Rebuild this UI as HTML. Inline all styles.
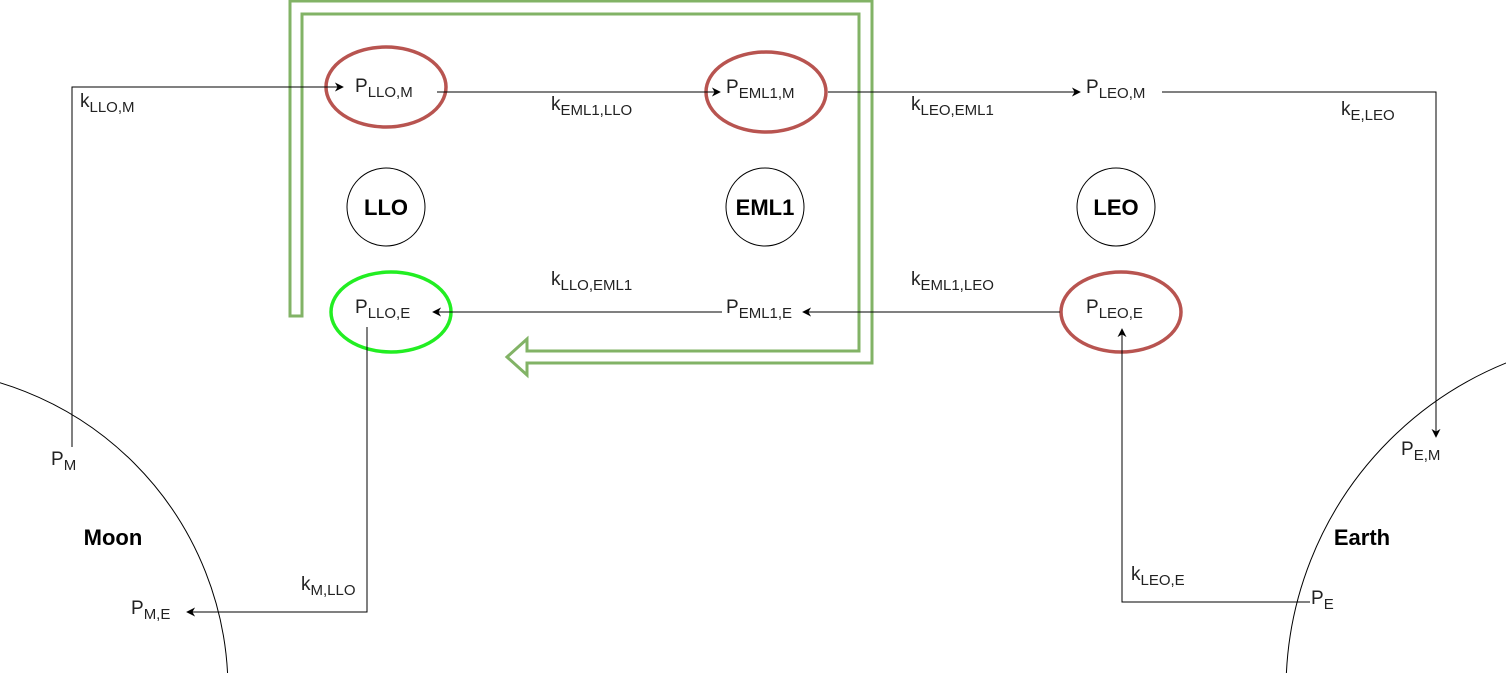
<!DOCTYPE html>
<html><head><meta charset="utf-8"><style>
html,body{margin:0;padding:0;background:#fff;width:1506px;height:673px;overflow:hidden}
svg{display:block;position:absolute;left:0;top:0}
text{font-family:"Liberation Sans",sans-serif;fill:#222}
.l{font-size:19px}
.s{font-size:15px}
.b{font-size:22px;font-weight:bold;fill:#000}
</style></head><body>
<svg width="1506" height="673" viewBox="0 0 1506 673" xmlns="http://www.w3.org/2000/svg">
<defs>
<marker id="a" viewBox="0 0 10 10" refX="9" refY="5" markerWidth="9" markerHeight="9" markerUnits="userSpaceOnUse" orient="auto">
<path d="M0,0 L10,5 L0,10 L3,5 z" fill="#000"/></marker>
</defs>
<circle cx="-93" cy="690" r="321" fill="none" stroke="#000" stroke-width="1"/>
<circle cx="1639" cy="690" r="353" fill="none" stroke="#000" stroke-width="1"/>
<polygon points="290,316 290,1 872,1 872,363 527,363 527,375 507,357 527,339 527,351 859,351 859,14 302,14 302,316" fill="none" stroke="#82b366" stroke-width="3"/>
<ellipse cx="386" cy="87" rx="60" ry="40" fill="none" stroke="#b85450" stroke-width="3.5"/>
<ellipse cx="766" cy="92" rx="60" ry="40" fill="none" stroke="#b85450" stroke-width="3.5"/>
<ellipse cx="391" cy="312" rx="60" ry="40" fill="none" stroke="#22ee22" stroke-width="3.5"/>
<ellipse cx="1121" cy="312" rx="60" ry="40" fill="none" stroke="#b85450" stroke-width="3.5"/>
<circle cx="386" cy="207" r="39" fill="none" stroke="#000"/>
<circle cx="765" cy="207" r="39" fill="none" stroke="#000"/>
<circle cx="1116" cy="207" r="39" fill="none" stroke="#000"/>
<text class="b" x="386" y="215" text-anchor="middle">LLO</text>
<text class="b" x="765" y="215" text-anchor="middle">EML1</text>
<text class="b" x="1116" y="215" text-anchor="middle">LEO</text>
<text class="b" x="113" y="545" text-anchor="middle">Moon</text>
<text class="b" x="1362" y="545" text-anchor="middle">Earth</text>
<g fill="none" stroke="#000" stroke-width="1">
<polyline points="72,447 72,87 343,87" marker-end="url(#a)"/>
<polyline points="437,92 720,92" marker-end="url(#a)"/>
<polyline points="828,92 1080,92" marker-end="url(#a)"/>
<polyline points="1162,92 1436,92 1436,437" marker-end="url(#a)"/>
<polyline points="1060,312 803,312" marker-end="url(#a)"/>
<polyline points="722,312 433,312" marker-end="url(#a)"/>
<polyline points="367,327 367,612 187,612" marker-end="url(#a)"/>
<polyline points="1310,602 1122,602 1122,329" marker-end="url(#a)"/>
</g>
<text class="l" x="355" y="92">P<tspan class="s" dy="5">LLO,M</tspan></text>
<text class="l" x="726" y="93">P<tspan class="s" dy="5">EML1,M</tspan></text>
<text class="l" x="1086" y="93">P<tspan class="s" dy="5">LEO,M</tspan></text>
<text class="l" x="355" y="313">P<tspan class="s" dy="5">LLO,E</tspan></text>
<text class="l" x="726" y="313">P<tspan class="s" dy="5">EML1,E</tspan></text>
<text class="l" x="1086" y="313">P<tspan class="s" dy="5">LEO,E</tspan></text>
<text class="l" x="80" y="107">k<tspan class="s" dy="5">LLO,M</tspan></text>
<text class="l" x="551" y="110">k<tspan class="s" dy="5">EML1,LLO</tspan></text>
<text class="l" x="911" y="110">k<tspan class="s" dy="5">LEO,EML1</tspan></text>
<text class="l" x="1341" y="115">k<tspan class="s" dy="5">E,LEO</tspan></text>
<text class="l" x="551" y="285">k<tspan class="s" dy="5">LLO,EML1</tspan></text>
<text class="l" x="911" y="285">k<tspan class="s" dy="5">EML1,LEO</tspan></text>
<text class="l" x="301" y="590">k<tspan class="s" dy="5">M,LLO</tspan></text>
<text class="l" x="1131" y="580">k<tspan class="s" dy="5">LEO,E</tspan></text>
<text class="l" x="51" y="465">P<tspan class="s" dy="5">M</tspan></text>
<text class="l" x="131" y="614">P<tspan class="s" dy="5">M,E</tspan></text>
<text class="l" x="1401" y="455">P<tspan class="s" dy="5">E,M</tspan></text>
<text class="l" x="1311" y="604">P<tspan class="s" dy="5">E</tspan></text>
</svg>
</body></html>
